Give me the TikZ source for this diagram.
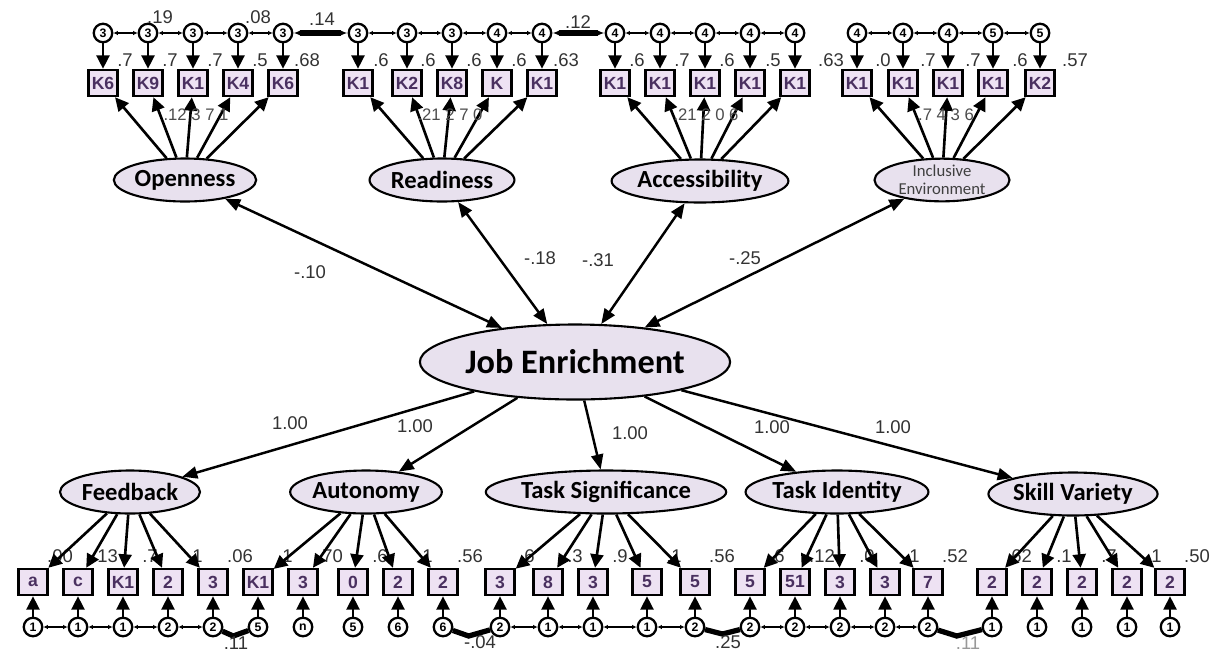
\documentclass[tikz,border=0pt]{standalone}
\usepackage{fontspec}
\setmainfont{Liberation Sans}
\newfontfamily\calfont{Carlito}
\usetikzlibrary{arrows.meta,shapes.geometric,calc}
\definecolor{latfill}{HTML}{E8E1EE}
\definecolor{boxfill}{HTML}{EEE2F3}
\definecolor{boxtxt}{HTML}{4A3060}
\tikzset{
 lat/.style={ellipse,draw,line width=1.2pt,fill=latfill,minimum width=2.8cm,minimum height=0.86cm,inner sep=0pt,font=\calfont\bfseries\fontsize{14}{14}\selectfont},
 ind/.style={rectangle,draw,line width=1.4pt,fill=boxfill,minimum width=0.58cm,minimum height=0.52cm,inner sep=0pt,font=\bfseries\fontsize{10}{10}\selectfont,text=boxtxt},
 err/.style={circle,draw,line width=1.3pt,fill=white,minimum size=0.37cm,inner sep=0pt,font=\bfseries\fontsize{7}{7}\selectfont},
 ld/.style={-{Triangle[length=0.27cm,width=0.26cm]},line width=1.5pt},
 jl/.style={-{Triangle[length=0.3cm,width=0.24cm]},line width=1.4pt},
 cor/.style={{Triangle[length=0.3cm,width=0.24cm]}-{Triangle[length=0.3cm,width=0.24cm]},line width=1.4pt},
 sc/.style={{Latex[length=2.5pt,width=2.5pt]}-{Latex[length=2.5pt,width=2.5pt]},line width=0.8pt},
 bigc/.style={line width=3pt},
 num/.style={font=\fontsize{10.5}{10.5}\selectfont,text=black!80,inner sep=0pt},
 snum/.style={font=\fontsize{9.5}{9.5}\selectfont,text=black!70,inner sep=0pt}
}
\begin{document}
\begin{tikzpicture}[x=0.02cm,y=-0.02cm]
\useasboundingbox[fill=white] (0,0) rectangle (1226,653);

% ---------- latent variables ----------
\node[lat,minimum width=5.7cm,minimum height=1.5cm,font=\calfont\bfseries\fontsize{19.5}{19.5}\selectfont] (JE) at (575,362) {Job Enrichment};
\node[lat] (O) at (185,180) {Openness};
\node[lat] (R) at (442,180) {Readiness};
\node[lat] (A) at (700,181) {Accessibility};
\node[lat,minimum width=2.7cm,minimum height=0.8cm,font=\calfont\fontsize{9.5}{10.5}\selectfont,text=black!75,align=center] (I) at (942,180) {Inclusive\\Environment};

\node[lat] (FB) at (130,492) {Feedback};
\node[lat] (AU) at (366,492) {Autonomy};
\node[lat,minimum width=3.2cm] (TS) at (606,492) {Task Significance};
\node[lat] (TI) at (837,492) {Task Identity};
\node[lat] (SV) at (1073,494) {Skill Variety};

% ---------- top indicators ----------
\foreach \n/\x/\t/\e in {o1/103/K6/3,o2/148/K9/3,o3/193/K1/3,o4/238/K4/3,o5/283/K6/3,
                         r1/358/K1/3,r2/407/K2/3,r3/452/K8/3,r4/497/K/4,r5/542/K1/4,
                         a1/615/K1/4,a2/660/K1/4,a3/705/K1/4,a4/750/K1/4,a5/795/K1/4,
                         i1/857/K1/4,i2/903/K1/4,i3/948/K1/4,i4/993/K1/5,i5/1040/K2/5}{
  \node[ind] (b\n) at (\x,83) {\t};
  \node[err] (e\n) at (\x,33) {\e};
  \draw[ld] (e\n) -- (b\n);
}
\foreach \g/\L in {o/O,r/R,a/A,i/I}{
  \foreach \k in {1,...,5}{\draw[ld] (\L) -- (b\g\k);}
  \draw[sc] (e\g1) -- (e\g2);
  \draw[sc] (e\g2) -- (e\g3);
  \draw[sc] (e\g3) -- (e\g4);
  \draw[sc] (e\g4) -- (e\g5);
}
\draw[bigc,{Latex[length=4pt]}-{Latex[length=4pt]}] (eo5) -- (er1);
\draw[bigc,{Latex[length=4pt]}-{Latex[length=4pt]}] (er5) -- (ea1);

% top numbers
\node[num] (t19) at (160,17) {.19};
\node[num] (t08) at (258,17) {.08};
\node[num] (t14) at (322,19) {.14};
\node[num] (t12) at (578,22) {.12};
\foreach \x/\v in {125/.7,170/.7,215/.7,260/.5,307/.68,
                   381/.6,428/.6,474/.6,519/.6,566/.63,
                   637/.6,682/.7,727/.6,773/.5,831/.63,
                   883/.0,928/.7,973/.7,1020/.6,1075/.57}{
  \node[num] at (\x,60) {\v};
}
\node[snum] (lo) at (196,115) {.12 3 7 1};
\node[snum] (lr) at (450,115) {.21 2 7 0};
\node[snum] (la) at (706,115) {.21 2 0 6};
\node[snum] (li) at (946,115) {.7 4 3 6};

% ---------- correlations with Job Enrichment ----------
\draw[cor] (JE) -- (O);
\draw[cor] (JE) -- (R);
\draw[cor] (JE) -- (A);
\draw[cor] (JE) -- (I);
\node[num] (c1) at (310,272) {-.10};
\node[num] (c2) at (540,258) {-.18};
\node[num] (c3) at (598,260) {-.31};
\node[num] (c4) at (745,258) {-.25};

% ---------- Job Enrichment loadings ----------
\draw[jl] (JE) -- (FB);
\draw[jl] (JE) -- (AU);
\draw[jl] (JE) -- (TS);
\draw[jl] (JE) -- (TI);
\draw[jl] (JE) -- (SV);
\node[num] (l1) at (290,423) {1.00};
\node[num] (l2) at (415,426) {1.00};
\node[num] (l3) at (630,433) {1.00};
\node[num] (l4) at (772,427) {1.00};
\node[num] (l5) at (893,427) {1.00};

% ---------- bottom indicators ----------
\foreach \n/\x/\t/\e/\r in {f1/33/a/1/.00,f2/78/c/1/.13,f3/123/K1/1/.7,f4/168/2/2/.1,f5/213/3/2/.06,
                         u1/258/K1/5/.1,u2/303/3/n/.70,u3/353/0/5/.6,u4/398/2/6/.1,u5/443/2/6/.56,
                         s1/500/3/2/.6,s2/548/8/1/.3,s3/593/3/1/.9,s4/647/5/1/.1,s5/695/5/2/.56,
                         d1/750/5/2/.6,d2/795/51/2/.12,d3/840/3/2/.0,d4/885/3/2/.1,d5/928/7/2/.52,
                         v1/992/2/1/.62,v2/1037/2/1/.1,v3/1082/2/1/.7,v4/1127/2/1/.1,v5/1170/2/1/.50}{
  \node[ind] (b\n) at (\x,582) {\t};
  \node[err] (e\n) at (\x,627) {\e};
  \draw[ld] (e\n) -- (b\n);
  \node[num] at ($(\x,556)+(27,0)$) {\r};
}
\foreach \g/\L in {f/FB,u/AU,s/TS,d/TI,v/SV}{
  \foreach \k in {1,...,5}{\draw[ld] (\L) -- (b\g\k);}
}
\foreach \g in {f,s,d}{
  \draw[sc] (e\g1) -- (e\g2);
  \draw[sc] (e\g2) -- (e\g3);
  \draw[sc] (e\g3) -- (e\g4);
  \draw[sc] (e\g4) -- (e\g5);
}
\draw[bigc] (ef5) -- ($(ef5)!0.45!(eu1)+(0,9)$) -- (eu1);
\draw[bigc] (eu5) -- ($(eu5)!0.45!(es1)+(0,9)$) -- (es1);
\draw[bigc] (es5) -- ($(es5)!0.5!(ed1)+(0,7)$) -- (ed1);
\draw[bigc] (ed5) -- ($(ed5)!0.45!(ev1)+(0,9)$) -- (ev1);
\node[num] (b11) at (236,643) {.11};
\node[num] (b04) at (480,642) {-.04};
\node[num] (b25) at (728,642) {.25};
\node[num,text=black!40] (b11b) at (968,643) {.11};
\end{tikzpicture}
\end{document}
